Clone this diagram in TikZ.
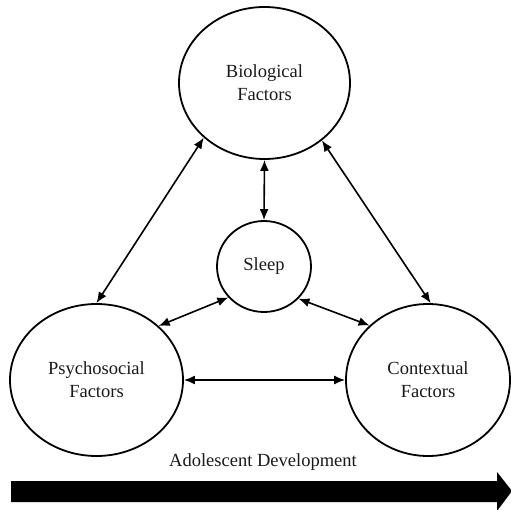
\documentclass[tikz,border=0pt]{standalone}
\usepackage{fontspec}
\setmainfont{Liberation Serif}
\usetikzlibrary{shapes.geometric,arrows.meta}
\begin{document}
\begin{tikzpicture}[x=1pt,y=-1pt,
  factor/.style={draw=black,line width=1.8pt,ellipse,inner sep=0pt,align=center,
    text=black!90,font=\fontsize{18.5}{23}\selectfont},
  link/.style={line width=1.6pt,{Latex[length=11pt,width=9pt]}-{Latex[length=11pt,width=9pt]}},
  lbl/.style={text=black!90,font=\fontsize{18.5}{23}\selectfont}]
\useasboundingbox (0,0) rectangle (511,510);
\node[factor,minimum width=171pt,minimum height=152pt] (bio) at (264.5,83) {Biological\\Factors};
\node[factor,minimum width=94pt,minimum height=91pt] (sleep) at (264,266.5) {Sleep};
\node[factor,minimum width=173pt,minimum height=152pt] (psy) at (96.5,380) {Psychosocial\\Factors};
\node[factor,minimum width=164pt,minimum height=152pt] (ctx) at (428,380) {Contextual\\Factors};
\draw[link] (bio.south) -- (sleep.north);
\draw[link] (bio.222.8) -- (psy.north);
\draw[link] (bio.315.2) -- (ctx.88.5);
\draw[link] (sleep.221) -- (psy.41.2);
\draw[link] (sleep.317) -- (ctx.137.6);
\draw[link] (psy.east) -- (ctx.west);
\node[lbl] (dev) at (263,462) {Adolescent Development};
\begin{scope}
\clip (0,0) rectangle (511,510);
\fill[black] (11,481) -- (497,481) -- (497,472) -- (512,491) -- (497,511) -- (497,502) -- (11,502) -- cycle;
\end{scope}
\end{tikzpicture}
\end{document}
